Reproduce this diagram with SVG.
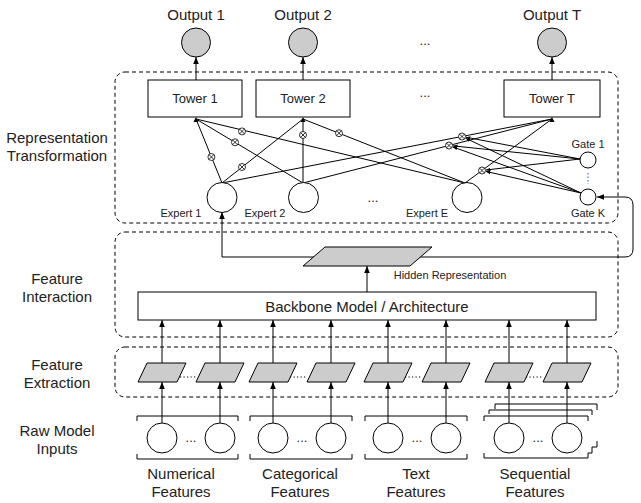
<svg xmlns="http://www.w3.org/2000/svg" xmlns:xlink="http://www.w3.org/1999/xlink" width="641" height="503" viewBox="0 0 641 503">
<style>
text{font-family:"Liberation Sans",Arial,Helvetica,sans-serif;fill:#222;text-anchor:middle;dominant-baseline:central}
.f15{font-size:15px}.f13{font-size:13px}.f11{font-size:11px}
.ln{stroke:#000;stroke-width:1;fill:none}
.box{fill:#fff;stroke:#000;stroke-width:1}
.grey{fill:#cccccc;stroke:#000;stroke-width:1}
.dash{fill:none;stroke:#000;stroke-width:1;stroke-dasharray:4,3}
.dots{stroke:#000;stroke-width:1.2;stroke-dasharray:1.2,2.3;fill:none}
</style>
<defs>
<marker id="ah" viewBox="0 0 10 10" refX="10" refY="5" markerWidth="7" markerHeight="7" orient="auto" markerUnits="userSpaceOnUse"><path d="M0,1 L10,5 L0,9 z" fill="#000"/></marker>
<marker id="as" viewBox="0 0 10 10" refX="10" refY="5" markerWidth="4.5" markerHeight="4.5" orient="auto" markerUnits="userSpaceOnUse"><path d="M0,1 L10,5 L0,9 z" fill="#000"/></marker>
<g id="ox"><circle r="3.5" fill="#fff" stroke="#000" stroke-width="0.8"/><path d="M-2.4,-2.4L2.4,2.4M-2.4,2.4L2.4,-2.4" stroke="#000" stroke-width="0.8"/></g>
</defs>
<rect width="641" height="503" fill="#fff"/>

<g id="layer-labels">
<text class="f15" x="57" y="137">Representation</text>
<text class="f15" x="57" y="155">Transformation</text>
<text class="f15" x="57" y="278">Feature</text>
<text class="f15" x="57" y="296">Interaction</text>
<text class="f15" x="57" y="364">Feature</text>
<text class="f15" x="57" y="382">Extraction</text>
<text class="f15" x="57" y="430">Raw Model</text>
<text class="f15" x="57" y="448">Inputs</text>
</g>

<g id="layer-boxes">
<rect class="dash" x="115" y="72" width="503" height="151" rx="10"/>
<rect class="dash" x="115" y="232" width="503" height="105" rx="10"/>
<rect class="dash" x="115" y="347" width="503" height="50" rx="10"/>
</g>

<g id="connectors">
<line class="ln" x1="196" y1="80" x2="196" y2="57" marker-end="url(#ah)"/>
<line class="ln" x1="303" y1="80" x2="303" y2="57" marker-end="url(#ah)"/>
<line class="ln" x1="552" y1="80" x2="552" y2="57" marker-end="url(#ah)"/>
<path class="ln" d="M222,183L196,119M222,183L303,119M222,183L552,119M303,183L196,119M303,183L303,119M303,183L552,119M465,183L196,119M465,183L303,119M465,183L552,119"/>
<path d="M196,117L193.5,122L198.5,122z M303,117L300.5,122L305.5,122z M552,117L549.5,122L554.5,122z" fill="#000"/>
<line class="ln" x1="580" y1="159" x2="465.9" y2="137.2" marker-end="url(#as)"/>
<line class="ln" x1="580" y1="159" x2="453" y2="145.9" marker-end="url(#as)"/>
<line class="ln" x1="580" y1="159" x2="486" y2="170" marker-end="url(#as)"/>
<line class="ln" x1="581" y1="193" x2="465.6" y2="138.2" marker-end="url(#as)"/>
<line class="ln" x1="581" y1="193" x2="452.8" y2="146.9" marker-end="url(#as)"/>
<line class="ln" x1="581" y1="193" x2="485.9" y2="171.4" marker-end="url(#as)"/>
<line class="ln" x1="222" y1="257" x2="222" y2="212" marker-end="url(#ah)"/>
<path class="ln" d="M222,257H625Q633,257 633,249V205Q633,197 625,197H597" marker-end="url(#ah)"/>
<line class="ln" x1="367" y1="292" x2="367" y2="266" marker-end="url(#ah)"/>
<line class="ln" x1="162" y1="363" x2="162" y2="320" marker-end="url(#ah)"/>
<line class="ln" x1="220" y1="363" x2="220" y2="320" marker-end="url(#ah)"/>
<line class="ln" x1="273" y1="363" x2="273" y2="320" marker-end="url(#ah)"/>
<line class="ln" x1="331" y1="363" x2="331" y2="320" marker-end="url(#ah)"/>
<line class="ln" x1="388" y1="363" x2="388" y2="320" marker-end="url(#ah)"/>
<line class="ln" x1="446" y1="363" x2="446" y2="320" marker-end="url(#ah)"/>
<line class="ln" x1="509" y1="363" x2="509" y2="320" marker-end="url(#ah)"/>
<line class="ln" x1="567" y1="363" x2="567" y2="320" marker-end="url(#ah)"/>
<line class="ln" x1="162" y1="423" x2="162" y2="382" marker-end="url(#ah)"/>
<line class="ln" x1="220" y1="423" x2="220" y2="382" marker-end="url(#ah)"/>
<line class="ln" x1="273" y1="423" x2="273" y2="382" marker-end="url(#ah)"/>
<line class="ln" x1="331" y1="423" x2="331" y2="382" marker-end="url(#ah)"/>
<line class="ln" x1="388" y1="423" x2="388" y2="382" marker-end="url(#ah)"/>
<line class="ln" x1="446" y1="423" x2="446" y2="382" marker-end="url(#ah)"/>
<line class="ln" x1="509" y1="423" x2="509" y2="382" marker-end="url(#ah)"/>
<line class="ln" x1="567" y1="423" x2="567" y2="382" marker-end="url(#ah)"/>
<use href="#ox" x="211.4" y="157"/>
<use href="#ox" x="242" y="167"/>
<use href="#ox" x="462" y="136.5"/>
<use href="#ox" x="235" y="142.3"/>
<use href="#ox" x="303" y="135"/>
<use href="#ox" x="449" y="145.5"/>
<use href="#ox" x="242" y="131.4"/>
<use href="#ox" x="339" y="133.2"/>
<use href="#ox" x="482" y="170.5"/>
</g>

<g id="output-1"><circle class="grey" cx="196" cy="42.5" r="14.5"/><text class="f15" x="196" y="14">Output 1</text></g>
<g id="output-2"><circle class="grey" cx="303" cy="42.5" r="14.5"/><text class="f15" x="303" y="14">Output 2</text></g>
<g id="output-dots"><text class="f13" x="425" y="40">...</text></g>
<g id="output-T"><circle class="grey" cx="552" cy="42.5" r="14.5"/><text class="f15" x="552" y="14">Output T</text></g>

<g id="tower-1"><rect class="box" x="148" y="80" width="94" height="37"/><text class="f13" x="195" y="98.5">Tower 1</text></g>
<g id="tower-2"><rect class="box" x="256" y="80" width="94" height="37"/><text class="f13" x="303" y="98.5">Tower 2</text></g>
<g id="tower-dots"><text class="f13" x="425" y="92">...</text></g>
<g id="tower-T"><rect class="box" x="504" y="80" width="96" height="37"/><text class="f13" x="552" y="98.5">Tower T</text></g>

<g id="expert-1"><circle class="box" cx="222" cy="197.5" r="15"/><text class="f11" x="181" y="212.5">Expert 1</text></g>
<g id="expert-2"><circle class="box" cx="303.5" cy="197.5" r="15"/><text class="f11" x="265" y="212.5">Expert 2</text></g>
<g id="expert-dots"><text class="f13" x="373" y="197">...</text></g>
<g id="expert-E"><circle class="box" cx="467" cy="197.5" r="15"/><text class="f11" x="427" y="212.5">Expert E</text></g>

<g id="gate-1"><circle class="box" cx="588" cy="160" r="8"/><text class="f11" x="588" y="144">Gate 1</text></g>
<g id="gate-dots"><line x1="588" y1="173" x2="588" y2="184" stroke="#4a7ebb" stroke-width="1.2" stroke-dasharray="1.5,2"/></g>
<g id="gate-K"><circle class="box" cx="588" cy="197" r="8"/><text class="f11" x="588" y="213">Gate K</text></g>

<g id="hidden-representation"><polygon class="grey" points="325,247 432,247 410,266 303,266"/><text class="f11" x="450" y="275">Hidden Representation</text></g>

<g id="backbone"><rect class="box" x="138" y="292" width="458" height="28"/><text class="f15" x="367" y="306">Backbone Model / Architecture</text></g>

<g id="feature-extraction">
<polygon class="grey" points="147,363 186,363 177,382 138,382"/>
<polygon class="grey" points="205,363 244,363 235,382 196,382"/>
<polygon class="grey" points="258,363 297,363 288,382 249,382"/>
<polygon class="grey" points="316,363 355,363 346,382 307,382"/>
<polygon class="grey" points="373,363 412,363 403,382 364,382"/>
<polygon class="grey" points="431,363 470,363 461,382 422,382"/>
<polygon class="grey" points="494,363 533,363 524,382 485,382"/>
<polygon class="grey" points="552,363 591,363 582,382 543,382"/>
<path class="dots" d="M180,377H196M290,377H307M405,377H422M526,377H543"/>
</g>

<g id="numerical-features">
<path class="ln" d="M137,421V416H238V421M137,454V459H238V454"/>
<circle class="box" cx="162" cy="438" r="15"/><circle class="box" cx="220" cy="438" r="15"/>
<text class="f13" x="191" y="437">...</text>
<text class="f15" x="181" y="473">Numerical</text><text class="f15" x="181" y="491">Features</text>
</g>
<g id="categorical-features">
<path class="ln" d="M250,421V416H352V421M250,454V459H352V454"/>
<circle class="box" cx="273" cy="438" r="15"/><circle class="box" cx="331" cy="438" r="15"/>
<text class="f13" x="302" y="437">...</text>
<text class="f15" x="300" y="473">Categorical</text><text class="f15" x="300" y="491">Features</text>
</g>
<g id="text-features">
<path class="ln" d="M365,421V416H467V421M365,454V459H467V454"/>
<circle class="box" cx="388" cy="438" r="15"/><circle class="box" cx="446" cy="438" r="15"/>
<text class="f13" x="417" y="437">...</text>
<text class="f15" x="416" y="473">Text</text><text class="f15" x="416" y="491">Features</text>
</g>
<g id="sequential-features">
<path class="ln" d="M495,409V404H597V410M489,414V410H592V415M484,421V416H588V421M484,453V458H588V453H592V447H597V441"/>
<circle class="box" cx="509" cy="438" r="15"/><circle class="box" cx="567" cy="438" r="15"/>
<text class="f13" x="538" y="437">...</text>
<text class="f15" x="535" y="473">Sequential</text><text class="f15" x="535" y="491">Features</text>
</g>
</svg>
